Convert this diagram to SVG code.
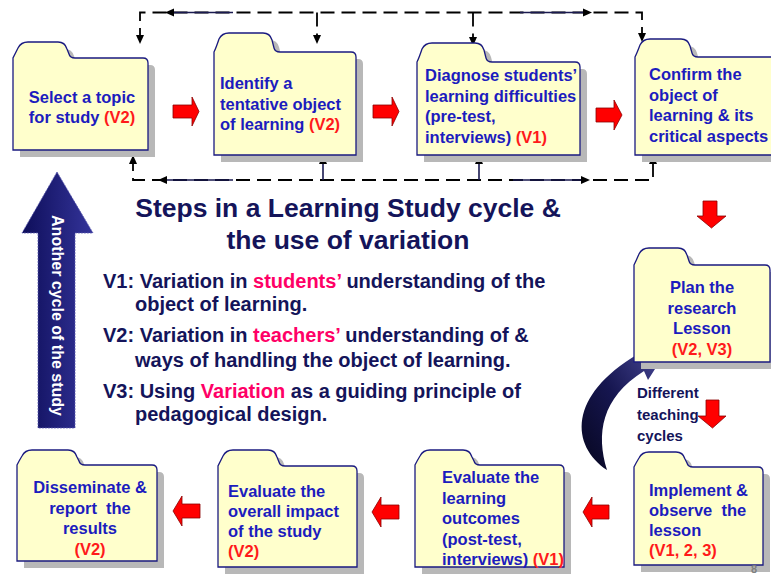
<svg xmlns="http://www.w3.org/2000/svg" width="771" height="574" viewBox="0 0 771 574">
<defs>
<style>
.shadow{fill:#b8b8b8}
.folder{fill:#ffffcc;stroke:#1a1a80;stroke-width:1.3}
.nt{font-family:"Liberation Sans",Arial,sans-serif;font-weight:bold;font-size:16.5px;fill:#1c1cbe;white-space:pre}
.red{fill:#ff1a1a}
.dash{fill:none;stroke:#000;stroke-width:1.8;stroke-dasharray:14 7}
.solid{fill:none;stroke:#1a1a50;stroke-width:1.6}
.ah{fill:#000}
.blk{fill:#ff0000;stroke:#8b0000;stroke-width:0.8}
.title{font-family:"Liberation Sans",Arial,sans-serif;font-weight:bold;font-size:26.5px;fill:#14145a}
.vt{font-family:"Liberation Sans",Arial,sans-serif;font-weight:bold;font-size:20px;fill:#14145a}
.pk{fill:#ff0066}
</style>
<linearGradient id="gBig" x1="0" y1="0" x2="1" y2="0">
<stop offset="0" stop-color="#0e0e5a"/>
<stop offset="1" stop-color="#34349a"/>
</linearGradient>
<linearGradient id="gCurve" x1="0" y1="1" x2="1" y2="0">
<stop offset="0" stop-color="#06061e"/>
<stop offset="0.5" stop-color="#161650"/>
<stop offset="1" stop-color="#4a4a9a"/>
</linearGradient>
</defs>
<rect width="771" height="574" fill="#ffffff"/>

<g id="connectors">
<path class="dash" d="M140,42 V12.5 H642 V40"/>
<path class="dash" d="M317,12.5 V42"/>
<path class="dash" d="M473,12.5 V44"/>
<path class="solid" d="M172,12.5 H233 M520,12.5 H585"/>
<polygon class="ah" points="140,44 136,35 144,35"/>
<polygon class="ah" points="317,44 313,35 321,35"/>
<polygon class="ah" points="473,46 469,37 477,37"/>
<polygon class="ah" points="642,42 638,33 646,33"/>
<polygon class="ah" points="165,12.5 174,8.5 174,16.5"/>
<polygon class="ah" points="592,12.5 583,8.5 583,16.5"/>
<path class="dash" d="M133,157 V180 H653 V157"/>
<path class="solid" d="M323,180 V159 M479,180 V159"/>
<path class="solid" d="M163,180 H233 M513,180 H583"/>
<polygon class="ah" points="133,155 129,164 137,164"/>
<polygon class="ah" points="323,155 319,164 327,164"/>
<polygon class="ah" points="479,155 475,164 483,164"/>
<polygon class="ah" points="653,155 649,164 657,164"/>
<polygon class="ah" points="158,180 167,176 167,184"/>
<polygon class="ah" points="590,180 581,176 581,184"/>
<polygon class="blk" points="173,105 192,105 192,97 199,111.5 192,126 192,118 173,118"/>
<polygon class="blk" points="373,105 392,105 392,97 399,111.5 392,126 392,118 373,118"/>
<polygon class="blk" points="596,108 614,108 614,100 622,115 614,130 614,122 596,122"/>
<polygon class="blk" points="703,201 717,201 717,216 726,216 711.5,228 697,216 703,216"/>
<polygon class="blk" points="173,511 182,496 182,504 200,504 200,518 182,518 182,526"/>
<polygon class="blk" points="372,512 381,497 381,505 399,505 399,519 381,519 381,527"/>
<polygon class="blk" points="583,512 592,497 592,505 609,505 609,519 592,519 592,527"/>
<path d="M607,470 C571,446 567,396 638,354 L634,345 L662,358 L648,380 L644,371 C601,398 596,434 607,470 Z" fill="url(#gCurve)"/>
</g>

<g id="node-select">
<path class="shadow" transform="translate(7,7)" d="M13,150 V58 Q15,54 18,48 Q21,42 28,42 H58 Q65,42 67,49 L69,54 Q70,58 75,58 H143 Q148,58 148,63 V150 Z"/>
<path class="folder" d="M13,150 V58 Q15,54 18,48 Q21,42 28,42 H58 Q65,42 67,49 L69,54 Q70,58 75,58 H143 Q148,58 148,63 V150 Z"/>
<text class="nt" text-anchor="middle"><tspan x="82" y="103">Select a topic</tspan><tspan x="82" y="123">for study <tspan class="red">(V2)</tspan></tspan></text>
</g>

<g id="node-identify">
<path class="shadow" transform="translate(7,7)" d="M214,155 V52 Q216,48 219,39 Q222,33 229,33 H263 Q270,33 272,40 L274,48 Q275,52 280,52 H351 Q356,52 356,57 V155 Z"/>
<path class="folder" d="M214,155 V52 Q216,48 219,39 Q222,33 229,33 H263 Q270,33 272,40 L274,48 Q275,52 280,52 H351 Q356,52 356,57 V155 Z"/>
<text class="nt"><tspan x="220" y="89">Identify a</tspan><tspan x="220" y="110">tentative object</tspan><tspan x="220" y="130">of learning <tspan class="red">(V2)</tspan></tspan></text>
</g>

<g id="node-diagnose">
<path class="shadow" transform="translate(7,7)" d="M417,155 V62 Q419,58 422,49 Q425,43 432,43 H475 Q482,43 484,50 L486,58 Q487,62 492,62 H575 Q580,62 580,67 V155 Z"/>
<path class="folder" d="M417,155 V62 Q419,58 422,49 Q425,43 432,43 H475 Q482,43 484,50 L486,58 Q487,62 492,62 H575 Q580,62 580,67 V155 Z"/>
<text class="nt"><tspan x="425" y="81">Diagnose students’</tspan><tspan x="425" y="102">learning difficulties</tspan><tspan x="425" y="122">(pre-test,</tspan><tspan x="425" y="143">interviews) <tspan class="red">(V1)</tspan></tspan></text>
</g>

<g id="node-confirm">
<path class="shadow" transform="translate(7,7)" d="M635,155 V57 Q637,53 640,45 Q643,39 650,39 H681 Q688,39 690,46 L692,53 Q693,57 698,57 H780 Q785,57 785,62 V155 Z"/>
<path class="folder" d="M635,155 V57 Q637,53 640,45 Q643,39 650,39 H681 Q688,39 690,46 L692,53 Q693,57 698,57 H780 Q785,57 785,62 V155 Z"/>
<text class="nt"><tspan x="649" y="80">Confirm the</tspan><tspan x="649" y="101">object of</tspan><tspan x="649" y="121">learning &amp; its</tspan><tspan x="649" y="142">critical aspects</tspan></text>
</g>

<g id="node-plan">
<path class="shadow" transform="translate(7,7)" d="M634,362 V265 Q636,261 639,254 Q642,248 649,248 H678 Q685,248 687,255 L689,261 Q690,265 695,265 H765 Q770,265 770,270 V362 Z"/>
<path class="folder" d="M634,362 V265 Q636,261 639,254 Q642,248 649,248 H678 Q685,248 687,255 L689,261 Q690,265 695,265 H765 Q770,265 770,270 V362 Z"/>
<text class="nt" text-anchor="middle"><tspan x="702" y="293">Plan the</tspan><tspan x="702" y="314">research</tspan><tspan x="702" y="334">Lesson</tspan><tspan x="702" y="355" class="red">(V2, V3)</tspan></text>
</g>

<g id="node-implement">
<path class="shadow" transform="translate(7,7)" d="M634,565 V467 Q636,463 639,458 Q642,452 649,452 H676 Q683,452 685,459 L687,463 Q688,467 693,467 H758 Q763,467 763,472 V565 Z"/>
<path class="folder" d="M634,565 V467 Q636,463 639,458 Q642,452 649,452 H676 Q683,452 685,459 L687,463 Q688,467 693,467 H758 Q763,467 763,472 V565 Z"/>
<text class="nt"><tspan x="649" y="496">Implement &amp;</tspan><tspan x="649" y="516">observe  the</tspan><tspan x="649" y="536">lesson</tspan><tspan x="649" y="556" class="red">(V1, 2, 3)</tspan></text>
</g>

<g id="node-evaluate-learning">
<path class="shadow" transform="translate(7,7)" d="M415,567 V465 Q417,461 420,456 Q423,450 430,450 H463 Q470,450 472,457 L474,461 Q475,465 480,465 H559 Q564,465 564,470 V567 Z"/>
<path class="folder" d="M415,567 V465 Q417,461 420,456 Q423,450 430,450 H463 Q470,450 472,457 L474,461 Q475,465 480,465 H559 Q564,465 564,470 V567 Z"/>
<text class="nt"><tspan x="442" y="483">Evaluate the</tspan><tspan x="442" y="504">learning</tspan><tspan x="442" y="524">outcomes</tspan><tspan x="442" y="545">(post-test,</tspan><tspan x="442" y="565">interviews) <tspan class="red">(V1)</tspan></tspan></text>
</g>

<g id="node-evaluate-impact">
<path class="shadow" transform="translate(7,7)" d="M218,567 V466 Q220,462 223,456 Q226,450 233,450 H268 Q275,450 277,457 L279,462 Q280,466 285,466 H352 Q357,466 357,471 V567 Z"/>
<path class="folder" d="M218,567 V466 Q220,462 223,456 Q226,450 233,450 H268 Q275,450 277,457 L279,462 Q280,466 285,466 H352 Q357,466 357,471 V567 Z"/>
<text class="nt"><tspan x="228" y="497">Evaluate the</tspan><tspan x="228" y="517">overall impact</tspan><tspan x="228" y="537">of the study</tspan><tspan x="228" y="557" class="red">(V2)</tspan></text>
</g>

<g id="node-disseminate">
<path class="shadow" transform="translate(7,7)" d="M17,561 V465 Q19,461 22,456 Q25,450 32,450 H68 Q75,450 77,457 L79,461 Q80,465 85,465 H152 Q157,465 157,470 V561 Z"/>
<path class="folder" d="M17,561 V465 Q19,461 22,456 Q25,450 32,450 H68 Q75,450 77,457 L79,461 Q80,465 85,465 H152 Q157,465 157,470 V561 Z"/>
<text class="nt" text-anchor="middle"><tspan x="90" y="493">Disseminate &amp;</tspan><tspan x="90" y="514">report  the</tspan><tspan x="90" y="534">results</tspan><tspan x="90" y="555" class="red">(V2)</tspan></text>
</g>

<g id="another-cycle">
<polygon points="57,172 93,233 75,233 75,428 38,428 38,233 22,233" fill="url(#gBig)" stroke="#5a5ab0" stroke-width="0.8" stroke-dasharray="2 1"/>
<text transform="translate(51.5,315.5) rotate(90)" text-anchor="middle" font-family="Liberation Sans, Arial, sans-serif" font-weight="bold" font-size="16" fill="#ffffff">Another cycle of the study</text>
</g>

<g id="title">
<text class="title" text-anchor="middle"><tspan x="348" y="217">Steps in a Learning Study cycle &amp;</tspan><tspan x="348" y="249">the use of variation</tspan></text>
</g>

<g id="legend">
<text class="vt" x="103" y="288">V1: Variation in <tspan class="pk">students’</tspan> understanding of the</text>
<text class="vt" x="135" y="311">object of learning.</text>
<text class="vt" x="103" y="342">V2: Variation in <tspan class="pk">teachers’</tspan> understanding of &amp;</text>
<text class="vt" x="135" y="367">ways of handling the object of learning.</text>
<text class="vt" x="103" y="398">V3: Using <tspan class="pk">Variation</tspan> as a guiding principle of</text>
<text class="vt" x="135" y="421">pedagogical design.</text>
</g>

<g id="teaching-cycles">
<text font-family="Liberation Sans, Arial, sans-serif" font-weight="bold" font-size="15" fill="#14145a"><tspan x="637" y="398">Different</tspan><tspan x="637" y="420">teaching</tspan><tspan x="637" y="441">cycles</tspan></text>
<polygon class="blk" points="706,400 719,400 719,416 726,416 712.5,428 698,416 706,416"/>
</g>

<text x="751" y="573" font-family="Liberation Sans, Arial, sans-serif" font-weight="bold" font-size="11" fill="#808080">8</text>
</svg>
